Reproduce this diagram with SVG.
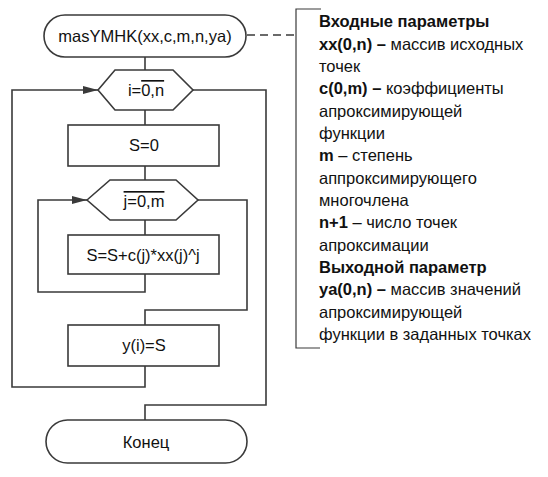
<svg xmlns="http://www.w3.org/2000/svg" width="548" height="477" viewBox="0 0 548 477">
<defs>
<marker id="arr" markerWidth="15" markerHeight="8" refX="15" refY="4" orient="auto" markerUnits="userSpaceOnUse">
<path d="M0,0 L15,4 L0,8 Z" fill="#3a3a3a"/>
</marker>
<style>
.sh{fill:#fff;stroke:#3a3a3a;stroke-width:1.6}
.ln{fill:none;stroke:#3a3a3a;stroke-width:1.6}
.t{font-family:"Liberation Sans",Arial,sans-serif;font-size:16.5px;fill:#111;text-anchor:middle}
.n{font-family:"Liberation Sans",Arial,sans-serif;font-size:16.5px;fill:#111}
.b{font-weight:bold}
.ov{text-decoration:overline}
</style>
</defs>
<rect width="548" height="477" fill="#fff"/>
<g id="connectors">
<path class="ln" d="M145,57 V70"/>
<path class="ln" d="M145,110 V125"/>
<path class="ln" d="M145,166 V180"/>
<path class="ln" d="M145,220 V235"/>
<path class="ln" d="M145,274 V292 H38 V200 H87" marker-end="url(#arr)"/>
<path class="ln" d="M198,200 H247 V310 H145 V325"/>
<path class="ln" d="M145,366 V387 H12 V90 H98" marker-end="url(#arr)"/>
<path class="ln" d="M193,90 H266 V405 H145 V420"/>
<path class="ln" d="M247,35 H296" stroke-dasharray="8,5"/>
</g>
<g id="start">
<rect class="sh" x="44" y="15" width="202" height="42" rx="21" ry="21"/>
<text class="t" x="145" y="42">masYMHK(xx,c,m,n,ya)</text>
</g>
<g id="loop-i">
<polygon class="sh" points="98,90 115,70 173,70 193,90 173,110 115,110"/>
<text class="t" x="146" y="96">i=<tspan class="ov">0,n</tspan></text>
</g>
<g id="s0">
<rect class="sh" x="68" y="125" width="151" height="41"/>
<text class="t" x="144" y="151">S=0</text>
</g>
<g id="loop-j">
<polygon class="sh" points="87,200 110,180 176,180 198,200 176,220 110,220"/>
<text class="t" x="144" y="207"><tspan class="ov">j=0,m</tspan></text>
</g>
<g id="sum">
<rect class="sh" x="68" y="235" width="151" height="39"/>
<text class="t" x="143" y="261">S=S+c(j)*xx(j)^j</text>
</g>
<g id="yi">
<rect class="sh" x="68" y="325" width="151" height="41"/>
<text class="t" x="144" y="351">y(i)=S</text>
</g>
<g id="end">
<rect class="sh" x="46" y="420" width="201" height="43" rx="21.5" ry="21.5"/>
<text class="t" x="146" y="448">Конец</text>
</g>
<g id="note">
<path class="ln" d="M321,9 H296 V348 H320" style="stroke-width:1.2"/>
<text class="n" x="319">
<tspan x="319" y="27" class="b">Входные параметры</tspan>
<tspan x="319" y="49.5"><tspan class="b">xx(0,n) –</tspan>  массив исходных</tspan>
<tspan x="319" y="72">точек</tspan>
<tspan x="319" y="94"><tspan class="b">c(0,m) –</tspan> коэффициенты</tspan>
<tspan x="319" y="116.5">апроксимирующей</tspan>
<tspan x="319" y="139">функции</tspan>
<tspan x="319" y="161"><tspan class="b">m</tspan> – степень</tspan>
<tspan x="319" y="183.5">аппроксимирующего</tspan>
<tspan x="319" y="206">многочлена</tspan>
<tspan x="319" y="228"><tspan class="b">n+1</tspan> – число точек</tspan>
<tspan x="319" y="250.5">апроксимации</tspan>
<tspan x="319" y="272.5" class="b">Выходной параметр</tspan>
<tspan x="319" y="295"><tspan class="b">ya(0,n) –</tspan> массив значений</tspan>
<tspan x="319" y="317.5">апроксимирующей</tspan>
<tspan x="319" y="340">функции в заданных точках</tspan>
</text>
</g>
</svg>
